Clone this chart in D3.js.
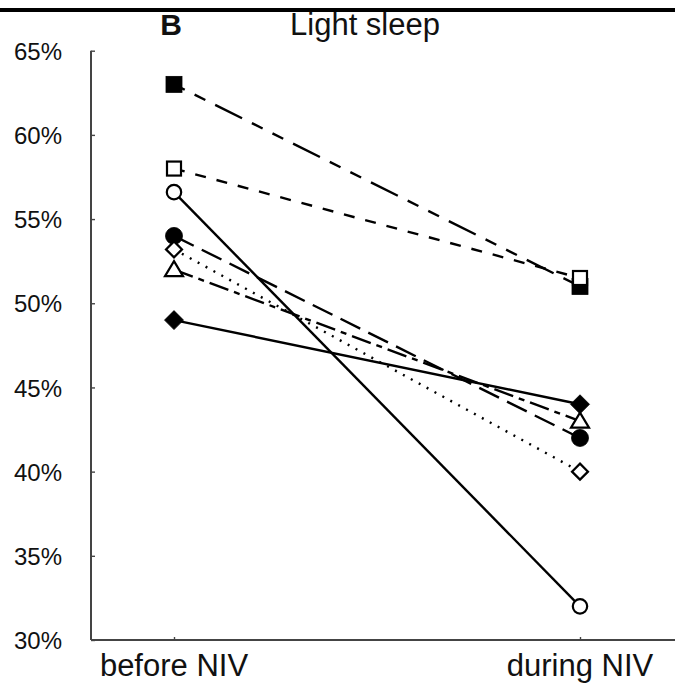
<!DOCTYPE html>
<html><head><meta charset="utf-8">
<script src="https://cdn.jsdelivr.net/npm/d3@7"></script>
<style>body{margin:0;background:#fff}svg{display:block}text{font-family:"Liberation Sans",Arial,sans-serif;fill:#111}</style>
</head><body><svg id="c" width="675" height="689"></svg>
<script>
const categories = ["before NIV", "during NIV"];
const yTicks = [30, 35, 40, 45, 50, 55, 60, 65];
const seriesNames = ["filledSquare", "openSquare", "openCircle", "filledCircle", "openDiamond", "openTriangle", "filledDiamond"];
const beforeValues = [63, 58, 56.6, 54, 53.2, 52, 49];
const duringValues = [51, 51.5, 32, 42, 40, 43, 44];
const markerShapes = ["square", "square", "circle", "circle", "diamond", "triangle", "diamond"];
const markerFilled = [true, false, false, true, false, false, true];
const dashPatterns = ["12,11,12,11,30,11", "11,11", null, "22,9", "2,7", "20,6,6,6", null];

const svg = d3.select("#c");
const x = d3.scalePoint().domain(categories).range([174, 580]);
const y = d3.scaleLinear().domain([30, 65]).range([640, 50.7]);

// top rule
svg.append("rect").attr("x", 0).attr("y", 8).attr("width", 675).attr("height", 4).attr("fill", "#000");

// titles
svg.append("text").attr("x", 171).attr("y", 35).attr("text-anchor", "middle")
  .attr("font-size", 30).attr("font-weight", "bold").text("B");
svg.append("text").attr("x", 365).attr("y", 35).attr("text-anchor", "middle")
  .attr("font-size", 31).text("Light sleep");

// axes
const axColor = "#444";
const yAxis = svg.append("g").attr("transform", "translate(91,0)")
  .call(d3.axisRight(y).tickValues(yTicks).tickSize(4).tickFormat(d => d + "%"));
yAxis.select(".domain").attr("stroke", axColor).attr("stroke-width", 2).attr("d", `M0,${y(65)}H0V${y(30)}`);
yAxis.selectAll(".tick line").attr("stroke", axColor).attr("stroke-width", 1.4);
yAxis.selectAll(".tick text").attr("x", -29).attr("text-anchor", "end").attr("font-size", 24)
  .attr("fill", "#111").attr("font-family", "Liberation Sans, Arial, sans-serif").attr("dy", "0.36em");

const xAxis = svg.append("g").attr("transform", `translate(0,${y(30)})`)
  .call(d3.axisTop(x).tickSize(3).tickFormat(""));
xAxis.select(".domain").attr("stroke", axColor).attr("stroke-width", 2).attr("d", "M91,0H675");
xAxis.selectAll(".tick line").attr("stroke", axColor).attr("stroke-width", 1.4);
categories.forEach(c => {
  svg.append("text").attr("x", x(c)).attr("y", 676).attr("text-anchor", "middle")
    .attr("font-size", 31).text(c);
});

// lines
seriesNames.forEach((s, i) => {
  const ln = svg.append("line")
    .attr("x1", x(categories[0])).attr("y1", y(beforeValues[i]))
    .attr("x2", x(categories[1])).attr("y2", y(duringValues[i]))
    .attr("stroke", "#000").attr("stroke-width", 2.4);
  if (dashPatterns[i]) ln.attr("stroke-dasharray", dashPatterns[i]);
});

// markers
function marker(g, shape, filled, cx, cy) {
  const fill = filled ? "#000" : "#fff";
  const sw = filled ? 0.8 : 2.2;
  if (shape === "square") {
    const s = filled ? 16 : 14;
    g.append("rect").attr("x", cx - s / 2).attr("y", cy - s / 2).attr("width", s).attr("height", s)
      .attr("fill", fill).attr("stroke", "#000").attr("stroke-width", sw);
  } else if (shape === "circle") {
    g.append("circle").attr("cx", cx).attr("cy", cy).attr("r", filled ? 8.5 : 7.2)
      .attr("fill", fill).attr("stroke", "#000").attr("stroke-width", sw);
  } else if (shape === "diamond") {
    const r = filled ? 9.5 : 8;
    g.append("path").attr("d", `M${cx},${cy - r}L${cx + r},${cy}L${cx},${cy + r}L${cx - r},${cy}Z`)
      .attr("fill", fill).attr("stroke", "#000").attr("stroke-width", sw);
  } else if (shape === "triangle") {
    g.append("path").attr("d", `M${cx},${cy - 8.5}L${cx + 9},${cy + 6.5}L${cx - 9},${cy + 6.5}Z`)
      .attr("fill", fill).attr("stroke", "#000").attr("stroke-width", sw);
  }
}
const mg = svg.append("g");
seriesNames.forEach((s, i) => {
  marker(mg, markerShapes[i], markerFilled[i], x(categories[0]), y(beforeValues[i]));
});
[0, 1, 6, 5, 3, 4, 2].forEach(i => {
  marker(mg, markerShapes[i], markerFilled[i], x(categories[1]), y(duringValues[i]));
});
</script></body></html>
